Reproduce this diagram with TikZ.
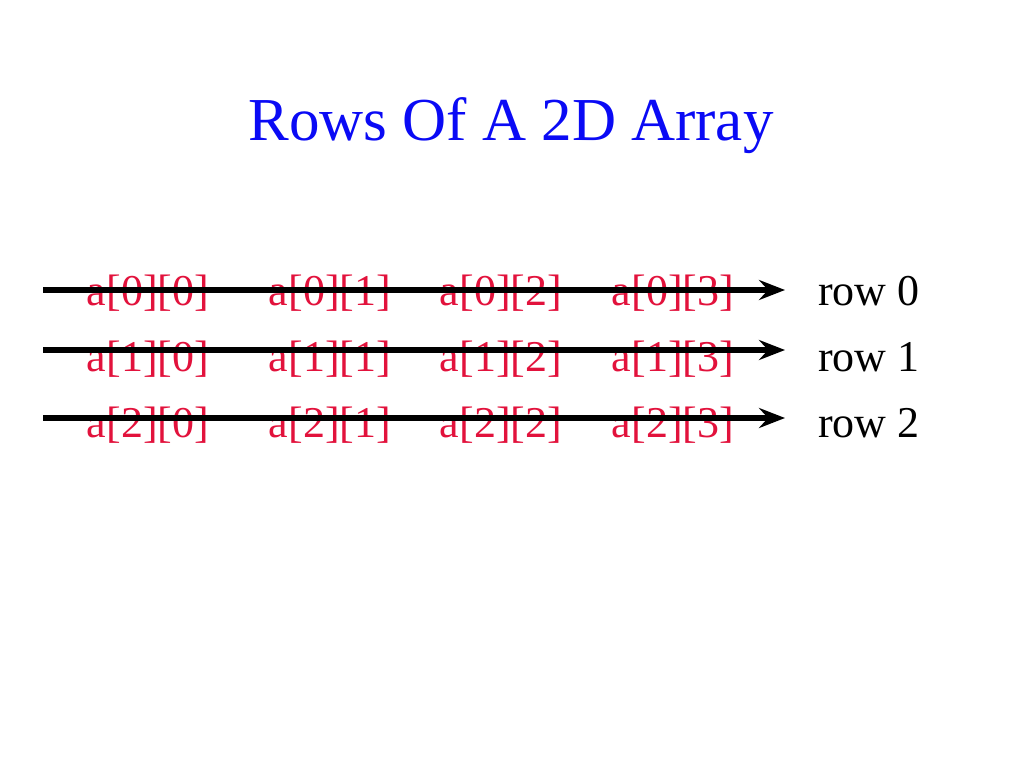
\documentclass[tikz,border=0pt]{standalone}
\usepackage{fontspec}
\setmainfont{Liberation Serif}
\usetikzlibrary{arrows.meta}
\definecolor{elemred}{RGB}{226,18,60}
\definecolor{titleblue}{RGB}{10,10,245}
\begin{document}
\begin{tikzpicture}[x=1pt,y=-1pt,
  elem/.style={anchor=base,text=elemred,font=\fontsize{44}{48}\selectfont,inner sep=0pt},
  rowlab/.style={anchor=base west,text=black,font=\fontsize{44}{48}\selectfont,inner sep=0pt},
  rowarrow/.style={line width=5.5pt,-{Stealth[length=26pt,width=20pt,inset=9pt]}}]
\useasboundingbox (0,0) rectangle (1024,768);
\node[anchor=base,text=titleblue,font=\fontsize{61}{66}\selectfont,inner sep=0pt] (title) at (511,140) {Rows Of A 2D Array};
\foreach \r/\by/\ly in {0/305/290,1/371/350,2/437/418}{
  \node[elem] (e\r0) at (148,\by) {a[\r][0]};
  \node[elem] (e\r1) at (330,\by) {a[\r][1]};
  \node[elem] (e\r2) at (501,\by) {a[\r][2]};
  \node[elem] (e\r3) at (673,\by) {a[\r][3]};
  \node[rowlab] (row\r) at (818,\by) {row \r};
  \coordinate (s\r) at (43,\ly);
  \coordinate (t\r) at (785,\ly);
  \draw[rowarrow] (s\r) -- (t\r);
}
\end{tikzpicture}
\end{document}
